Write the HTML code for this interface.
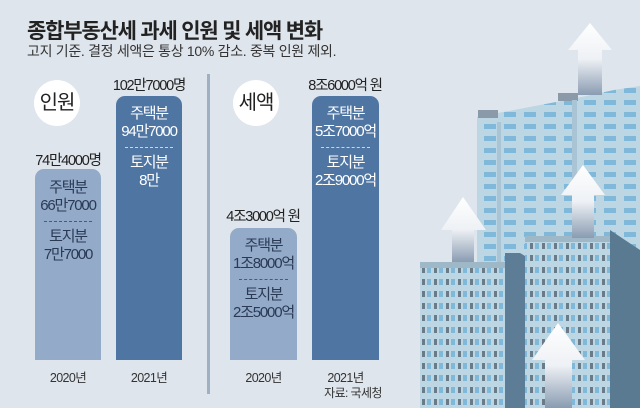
<!DOCTYPE html>
<html><head><meta charset="utf-8"><style>
*{margin:0;padding:0;box-sizing:border-box}
body{width:640px;height:408px;background:#dfe5ec;position:relative;overflow:hidden;font-family:"Liberation Sans","Noto Sans CJK KR",sans-serif;color:#222}
.a{position:absolute;white-space:nowrap}
.bar{position:absolute;border-radius:9px 9px 0 0;color:#fff;text-align:center;font-size:15px;line-height:18px;letter-spacing:-1.2px;white-space:nowrap}
.l{background:#93abc9;color:#2a3a55}
.d{background:#4f76a3}
.dash{width:74%;margin:6px auto 6px;border-top:1px dashed currentColor;opacity:.7}
.circ{position:absolute;width:46px;height:46px;border-radius:50%;background:#fff;font-size:20px;line-height:46px;text-align:center;letter-spacing:-1px}
.lab{position:absolute;font-size:12.5px;letter-spacing:-0.6px;color:#333;text-align:center;white-space:nowrap}
.top{position:absolute;font-size:14.5px;letter-spacing:-1.2px;text-align:center;white-space:nowrap}
</style></head><body>
<svg class="a" style="left:0;top:0" width="640" height="408" viewBox="0 0 640 408">
<defs>
<linearGradient id="ar" x1="0" y1="0" x2="0" y2="1"><stop offset="0" stop-color="#fff"/><stop offset="0.5" stop-color="#eef1f5"/><stop offset="1" stop-color="#8a9cb2"/></linearGradient>
<pattern id="w" width="20" height="12" patternUnits="userSpaceOnUse"><rect width="20" height="12" fill="#bcd6e4"/><rect x="4" y="4" width="12" height="5" fill="#7fb8d8"/></pattern>
<pattern id="w2" width="12" height="12" patternUnits="userSpaceOnUse"><rect width="12" height="12" fill="#bcd6e4"/><rect x="2" y="3" width="3" height="6" fill="#6a7b88"/><rect x="7" y="3" width="4" height="6" fill="#7fb8d8"/></pattern>
</defs>
<rect x="207" y="74" width="3" height="320" fill="#9fb0c3"/>
<polygon points="477,117 577,98 614,90 640,86 640,408 477,408" fill="url(#w)"/>
<rect x="478" y="110" width="20" height="8" fill="#8a9aa8"/>
<rect x="558" y="93" width="20" height="8" fill="#8a9aa8"/>
<rect x="497" y="122" width="4" height="286" fill="#a9c4d4"/>
<rect x="572" y="100" width="5" height="308" fill="#a9c4d4"/>
<polygon points="568,50 590,23 612,50 602,50 602,95 578,95 578,50" fill="url(#ar)"/>
<rect x="420" y="265" width="100" height="143" fill="url(#w2)"/>
<polygon points="505,253 520,253 540,265 540,408 505,408" fill="#5c7d95"/>
<rect x="420" y="262" width="85" height="6" fill="#9fb8c8"/>
<polygon points="441,230 463,197 486,230 474,230 474,262 452,262 452,230" fill="url(#ar)"/>
<rect x="525" y="240" width="90" height="168" fill="url(#w2)"/>
<polygon points="610,230 640,250 640,408 610,408" fill="#5a7a92"/>
<rect x="525" y="236" width="85" height="6" fill="#9fb8c8"/>
<polygon points="561,195 583,165 605,195 594,195 594,238 572,238 572,195" fill="url(#ar)"/>
<polygon points="532,360 558,323 585,360 572,360 572,408 545,408 545,360" fill="url(#ar)"/>
</svg>
<div class="a" style="left:27px;top:15px;font-size:21px;font-weight:bold;letter-spacing:-1.2px;color:#222">종합부동산세 과세 인원 및 세액 변화</div>
<div class="a" style="left:27px;top:41px;font-size:14px;letter-spacing:-0.3px;color:#333">고지 기준. 결정 세액은 통상 10% 감소. 중복 인원 제외.</div>
<div class="circ" style="left:34px;top:80px">인원</div>
<div class="circ" style="left:233px;top:80px">세액</div>
<div class="top" style="left:99px;width:100px;top:74px">102만7000명</div>
<div class="top" style="left:18px;width:100px;top:149px">74만4000명</div>
<div class="top" style="left:295px;width:100px;top:74px">8조6000억 원</div>
<div class="top" style="left:213px;width:100px;top:205px">4조3000억 원</div>
<div class="bar l" style="left:35px;top:169px;width:66px;height:191px;padding-top:10px">주택분<br>66만7000<div class="dash"></div>토지분<br>7만7000</div>
<div class="bar d" style="left:116px;top:96px;width:66px;height:264px;padding-top:9px">주택분<br>94만7000<div class="dash"></div>토지분<br>8만</div>
<div class="bar l" style="left:230px;top:228px;width:67px;height:132px;padding-top:9px">주택분<br>1조8000억<div class="dash"></div>토지분<br>2조5000억</div>
<div class="bar d" style="left:312px;top:96px;width:67px;height:264px;padding-top:9px">주택분<br>5조7000억<div class="dash"></div>토지분<br>2조9000억</div>
<div class="lab" style="left:35px;width:66px;top:367px">2020년</div>
<div class="lab" style="left:116px;width:66px;top:367px">2021년</div>
<div class="lab" style="left:230px;width:67px;top:367px">2020년</div>
<div class="lab" style="left:312px;width:67px;top:367px">2021년</div>
<div class="lab" style="left:318px;width:70px;top:384px;font-size:12px">자료: 국세청</div>
</body></html>
